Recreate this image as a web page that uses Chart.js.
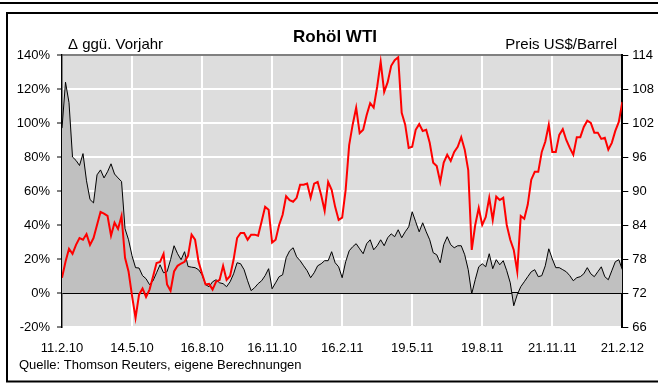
<!DOCTYPE html>
<html>
<head>
<meta charset="utf-8">
<script src="https://cdn.jsdelivr.net/npm/chart.js@4.4.1/dist/chart.umd.min.js"></script>
<style>
  html, body { margin: 0; padding: 0; background: #fff; }
</style>
</head>
<body>
<canvas id="oilChart" width="658" height="383"></canvas>
<script>
// axis labels every 20 sampling steps (roughly quarterly)
const dateLabels = ['11.2.10', '14.5.10', '16.8.10', '16.11.10', '16.2.11', '19.5.11', '19.8.11', '21.11.11', '21.2.12'];
const stepsPerLabel = 20;

// change vs. previous year, %
const yoyChange = [
  97, 124, 112, 80, 78, 75, 82, 66, 55, 53,
  69.5, 72.4, 67.7, 71.3, 76, 70, 67.7, 65.6, 37.8, 31.3,
  21.9, 14.9, 14.7, 10.2, 8.4, 4.9, 7.2, 11.9, 16.6, 11.9,
  12.5, 19.6, 27.8, 23.1, 19.6, 24.3, 15.6, 15.2, 14.9, 13.7,
  10.7, 4.9, 3.7, 6.6, 7.8, 6.0, 5.5, 3.7, 6.6, 11.3,
  17.8, 17.2, 13.7, 7.2, 1.4, 3.1, 5.5, 7.2, 10.2, 14.3,
  2.5, 6.0, 9.6, 10.7, 20.7, 24.8, 26.6, 21.3, 19.0, 16.0,
  13.1, 9.0, 11.9, 16.0, 17.2, 19.0, 19.0, 24.3, 17.8, 15.4,
  9.0, 18.4, 24.8, 27.2, 29.0, 26.0, 23.1, 29.0, 31.3, 25.4,
  27.8, 31.3, 27.8, 32.5, 34.8, 33.1, 37.2, 32.5, 36.0, 38.9,
  47.8, 41.9, 36.0, 41.3, 36.0, 31.3, 23.7, 22.5, 17.8, 28.4,
  33.1, 28.4, 26.6, 27.8, 27.8, 22.5, 13.7, -0.5, 7.8, 15.4,
  17.2, 15.4, 23.1, 14.3, 19.6, 16.6, 19.0, 13.1, 6.0, -7.5,
  -1, 3.7, 6.6, 9.6, 12.5, 13.7, 9.6, 10.2, 16.0, 26.0,
  20.1, 14.9, 14.9, 13.7, 12.5, 10.2, 7.2, 9.0, 9.6, 11.3,
  14.9, 11.3, 9.6, 12.5, 15.4, 9.6, 7.8, 13.1, 18.4, 19.6, 13.7
];

// WTI price, US$ per barrel
const wtiPrice = [
  74.7, 77.5, 79.8, 78.9, 80.5, 81.7, 81.4, 82.4, 80.5, 81.7,
  84.0, 86.3, 86.0, 85.6, 82.1, 84.4, 83.3, 85.6, 78.2, 75.8,
  71.5, 67.6, 71.7, 72.8, 71.3, 72.6, 74.9, 77.3, 77.5, 78.9,
  73.5, 72.4, 75.8, 76.8, 77.2, 77.5, 78.6, 82.3, 81.4, 77.5,
  75.4, 73.5, 73.6, 72.6, 74.0, 74.3, 76.8, 74.3, 75.0, 77.9,
  81.7, 82.6, 82.6, 81.4, 82.3, 82.3, 82.1, 84.6, 87.2, 86.7,
  80.9, 81.4, 84.0, 85.8, 89.1, 88.4, 88.1, 88.8, 91.1, 91.1,
  91.3, 88.8, 91.3, 91.6, 89.3, 86.5, 91.6, 90.2, 87.2, 84.9,
  85.3, 90.2, 98.1, 101.7, 104.7, 100.2, 100.8, 103.4, 105.5, 104.7,
  108.4, 112.8, 107.5, 109.2, 112.1, 113.1, 113.6, 103.8, 101.7, 97.6,
  97.8, 100.8, 101.8, 100.6, 100.8, 98.5, 95.0, 94.4, 91.6, 95.0,
  96.4, 95.3, 96.9, 97.8, 99.5, 97.3, 93.7, 79.6, 84.0, 87.0,
  84.0, 85.4, 88.8, 84.9, 89.0, 88.4, 88.8, 84.0, 81.4, 79.6,
  75.8, 85.6, 85.1, 87.6, 92.0, 93.4, 93.4, 96.9, 98.7, 101.7,
  96.9, 96.9, 99.9, 100.9, 99.0, 97.6, 96.4, 99.5, 99.5, 101.3,
  102.4, 102.0, 100.3, 100.3, 99.2, 99.4, 97.3, 98.5, 100.6, 102.2, 105.7
];

const FONT = 'Liberation Sans, Arial, Helvetica, sans-serif';
Chart.defaults.font.family = FONT;
Chart.defaults.font.size = 13;
Chart.defaults.color = '#000';

function toPoints(arr) {
  return arr.map((v, i) => ({ x: i, y: v }));
}

// white page, frame lines, grey plot background, headings and source note
const decorations = {
  id: 'decorations',
  beforeDraw(chart) {
    const { ctx, chartArea: a } = chart;
    ctx.save();
    ctx.fillStyle = '#fff';
    ctx.fillRect(0, 0, chart.width, chart.height);
    ctx.fillStyle = '#dddddd';
    ctx.fillRect(a.left, a.top, a.right - a.left, a.bottom - a.top);
    ctx.restore();
  },
  afterDraw(chart) {
    const { ctx } = chart;
    ctx.save();
    ctx.strokeStyle = '#000';
    ctx.lineWidth = 2;
    ctx.beginPath();
    ctx.moveTo(0, 3); ctx.lineTo(chart.width, 3);
    ctx.moveTo(6, 13); ctx.lineTo(chart.width, 13);
    ctx.moveTo(7, 12); ctx.lineTo(7, 382);
    ctx.moveTo(6, 381.5); ctx.lineTo(chart.width, 381.5);
    ctx.stroke();

    ctx.fillStyle = '#000';
    ctx.textBaseline = 'alphabetic';
    ctx.font = 'bold 17px ' + FONT;
    ctx.textAlign = 'center';
    ctx.fillText('Rohöl WTI', 335, 42);
    ctx.font = '15px ' + FONT;
    ctx.textAlign = 'left';
    ctx.fillText('Δ ggü. Vorjahr', 68, 49);
    ctx.textAlign = 'right';
    ctx.fillText('Preis US$/Barrel', 617, 49);
    ctx.font = '13px ' + FONT;
    ctx.textAlign = 'left';
    ctx.fillText('Quelle: Thomson Reuters, eigene Berechnungen', 19, 369);
    ctx.restore();
  }
};

new Chart(document.getElementById('oilChart'), {
  type: 'line',
  data: {
    datasets: [{
      label: 'Preis US$/Barrel',
      data: toPoints(wtiPrice),
      yAxisID: 'y1',
      borderColor: '#ff0000',
      borderWidth: 2,
      pointRadius: 0,
      tension: 0,
      fill: false
    }, {
      label: 'Δ ggü. Vorjahr',
      data: toPoints(yoyChange),
      yAxisID: 'y',
      borderColor: '#000',
      borderWidth: 1,
      backgroundColor: '#c0c0c0',
      pointRadius: 0,
      tension: 0,
      fill: 'origin'
    }]
  },
  options: {
    responsive: false,
    animation: false,
    layout: { padding: { top: 55, left: 0, right: 0, bottom: 0 } },
    plugins: {
      legend: { display: false },
      tooltip: { enabled: false }
    },
    scales: {
      x: {
        type: 'linear',
        min: 0,
        max: (dateLabels.length - 1) * stepsPerLabel,
        afterFit: s => { s.height = 56; },
        border: { display: false },
        grid: { color: '#fff', lineWidth: 2, drawTicks: false },
        ticks: {
          stepSize: stepsPerLabel,
          padding: 14,
          maxRotation: 0,
          callback: v => dateLabels[v / stepsPerLabel]
        }
      },
      y: {
        position: 'left',
        min: -20,
        max: 140,
        afterFit: s => { s.width = 62; },
        border: { color: '#000', width: 1.5 },
        grid: {
          lineWidth: 2,
          color: c => c.tick.value === 0 ? '#000' : (c.tick.value === 140 ? '#808080' : '#fff'),
          tickColor: '#000',
          tickWidth: 1,
          tickLength: 5
        },
        ticks: { stepSize: 20, padding: 7, callback: v => v + '%' }
      },
      y1: {
        position: 'right',
        min: 66,
        max: 114,
        afterFit: s => { s.width = 33; },
        border: { color: '#000', width: 2 },
        grid: { drawOnChartArea: false, tickColor: '#000', tickWidth: 1, tickLength: 6 },
        ticks: { stepSize: 6, padding: 4 }
      }
    }
  },
  plugins: [decorations]
});
</script>
</body>
</html>
